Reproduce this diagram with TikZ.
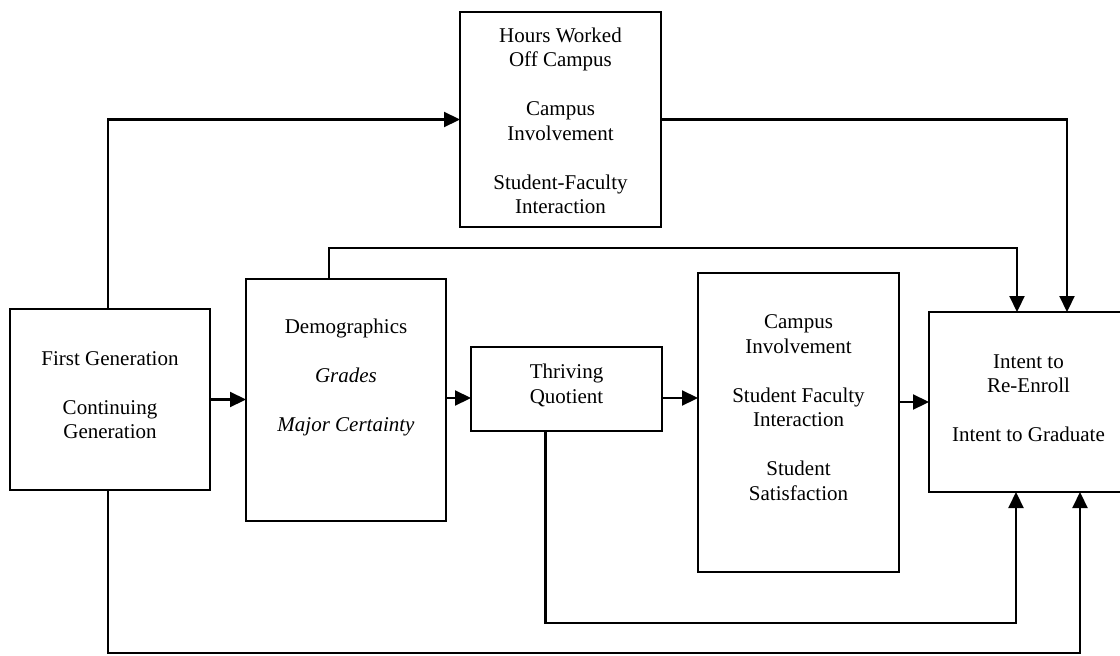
\documentclass[tikz,border=0pt]{standalone}
\usepackage{fontspec}
\setmainfont{Liberation Serif}
\usetikzlibrary{arrows.meta}
\tikzset{
  boxnode/.style={draw, line width=2.6pt, rectangle, inner sep=0pt, outer sep=0pt},
  txt/.style={align=center, inner sep=0pt, font=\fontsize{21}{24.5}\selectfont},
  conn/.style={line width=2.2pt},
  arr/.style={line width=2.2pt, -{Triangle[length=16pt,width=15pt]}}
}
\begin{document}
\begin{tikzpicture}[x=1pt,y=-1pt]
\clip (0,0) rectangle (1120,656);
\fill[white] (0,0) rectangle (1120,656);
% boxes
\node[boxnode, minimum width=201pt, minimum height=215pt] (top) at (560.5,119.5) {};
\node[boxnode, minimum width=200pt, minimum height=181pt] (fg) at (110,399.5) {};
\node[boxnode, minimum width=200pt, minimum height=242pt] (demo) at (346,400) {};
\node[boxnode, minimum width=191pt, minimum height=84pt] (tq) at (566.5,389) {};
\node[boxnode, minimum width=201pt, minimum height=299pt] (campus) at (798.5,422.5) {};
\node[boxnode, minimum width=199pt, minimum height=180pt] (intent) at (1028.5,402) {};
% texts
\node[txt] (topT) at (560.5,121) {Hours Worked\\Off Campus\\[24.5pt]Campus\\Involvement\\[24.5pt]Student-Faculty\\Interaction};
\node[txt] (fgT) at (110,395) {First Generation\\[24.5pt]Continuing\\Generation};
\node[txt] (demoT) at (346,377) {Demographics\\[24.5pt]\textit{Grades}\\[24.5pt]\textit{Major Certainty}};
\node[txt] (tqT) at (566.5,385.5) {Thriving\\Quotient};
\node[txt] (campusT) at (798.5,407.5) {Campus\\Involvement\\[24.5pt]Student Faculty\\Interaction\\[24.5pt]Student\\Satisfaction};
\node[txt] (intentT) at (1028.5,398) {Intent to\\Re-Enroll\\[24.5pt]Intent to Graduate};
% connectors
\draw[arr] ([xshift=-2pt]fg.north) |- (top.west);
\draw[arr] (top.east) -| ([xshift=38.5pt]intent.north);
\draw[arr] ([xshift=-17pt]demo.north) -- ++(0,-31) -| ([xshift=-11.5pt]intent.north);
\draw[arr] (fg.east) -- (fg.east -| demo.west);
\draw[arr] (demo.east |- 0,398) -- (tq.west |- 0,398);
\draw[arr] (tq.east |- 0,398) -- (campus.west |- 0,398);
\draw[arr] (campus.east |- intent.west) -- (intent.west);
\draw[arr] ([xshift=-21pt]tq.south) -- ++(0,192) -| ([xshift=-12.5pt]intent.south);
\draw[arr] ([xshift=-2pt]fg.south) -- ++(0,163) -| ([xshift=51.5pt]intent.south);
\end{tikzpicture}
\end{document}
